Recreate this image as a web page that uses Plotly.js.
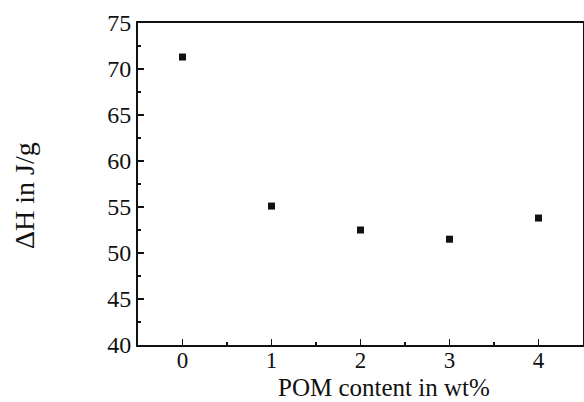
<!DOCTYPE html>
<html>
<head>
<meta charset="utf-8">
<script src="https://cdn.plot.ly/plotly-3.0.1.min.js"></script>
<style>html,body{margin:0;padding:0;background:#fff;}#chart{width:584px;height:402px;}</style>
</head>
<body>
<div id="chart"></div>
<script>
const pomContent = [0, 1, 2, 3, 4];
const deltaH = [71.3, 55.1, 52.5, 51.5, 53.8];
const xTicks = [0, 1, 2, 3, 4];
const yTicks = [40, 45, 50, 55, 60, 65, 70, 75];
const xTitle = 'POM content in wt%';
const yTitle = 'ΔH in J/g';

const fam = 'Liberation Serif, Times New Roman, serif';

Plotly.newPlot('chart', [{
  x: pomContent,
  y: deltaH,
  type: 'scatter',
  mode: 'markers',
  marker: {symbol: 'square', size: 7, color: '#111'},
  showlegend: false
}], {
  width: 584, height: 402,
  margin: {l: 138, r: 1, t: 23, b: 57, pad: 0},
  paper_bgcolor: '#fff', plot_bgcolor: '#fff',
  font: {family: fam, color: '#111', size: 24},
  xaxis: {
    range: [-0.5, 4.5], tickvals: xTicks, ticktext: xTicks.map(String),
    ticks: 'inside', ticklen: 6, tickwidth: 1.5, tickcolor: '#111',
    minor: {dtick: 0.5, tick0: 0, ticks: 'inside', ticklen: 3, tickwidth: 1.2, tickcolor: '#111'},
    showline: true, linecolor: '#111', linewidth: 2, mirror: true,
    showgrid: false, zeroline: false, automargin: false,
    ticklabelstandoff: -7,
    tickfont: {family: fam, size: 23, color: '#111'}
  },
  yaxis: {
    range: [40, 75], tickvals: yTicks, ticktext: yTicks.map(String),
    ticks: 'inside', ticklen: 6, tickwidth: 1.5, tickcolor: '#111',
    minor: {dtick: 2.5, tick0: 40, ticks: 'inside', ticklen: 3, tickwidth: 1.2, tickcolor: '#111'},
    showline: true, linecolor: '#111', linewidth: 2, mirror: true,
    showgrid: false, zeroline: false, automargin: false,
    tickfont: {family: fam, size: 24, color: '#111'}
  },
  annotations: [
    {text: xTitle, xref: 'paper', yref: 'paper', x: 0.552, y: -0.133,
     xanchor: 'center', yanchor: 'middle', showarrow: false,
     font: {family: fam, size: 25, color: '#111'}},
    {text: yTitle, xref: 'paper', yref: 'paper', x: -0.254, y: 0.466,
     xanchor: 'center', yanchor: 'middle', showarrow: false, textangle: -90,
     font: {family: fam, size: 28, color: '#111'}}
  ]
}, {displayModeBar: false, staticPlot: true});
</script>
</body>
</html>
